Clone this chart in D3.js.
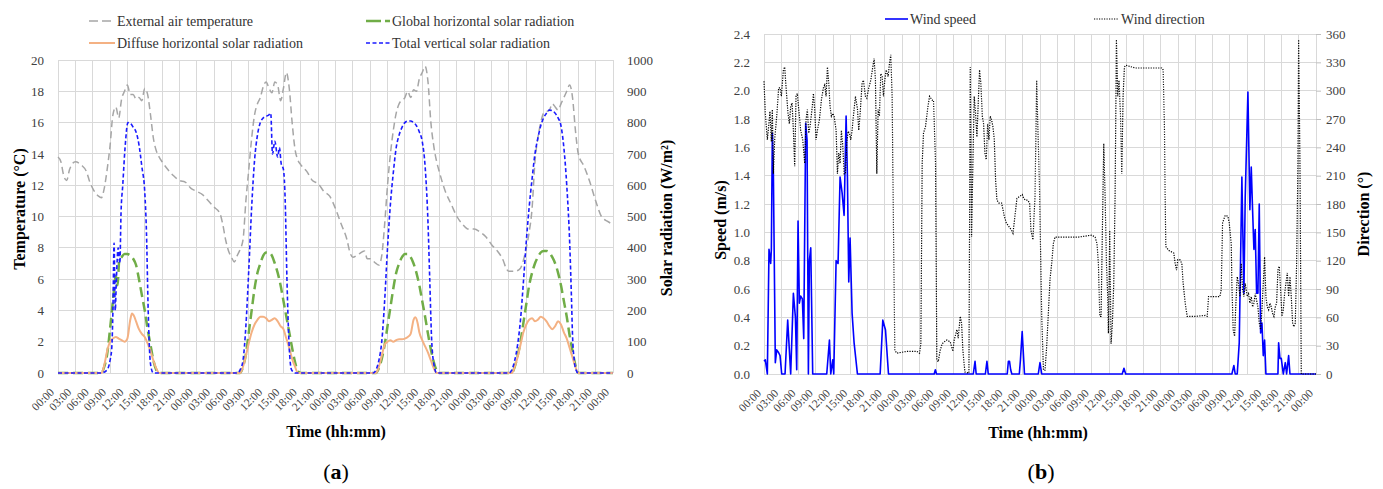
<!DOCTYPE html>
<html><head><meta charset="utf-8">
<script src="https://cdn.jsdelivr.net/npm/d3@7"></script>
<style>
body{margin:0;background:#fff;}
svg{font-family:"Liberation Serif","Times New Roman",serif;}
</style></head><body>
<svg id="c" width="1383" height="489"></svg>
<script>
// ---------- DATA ----------
const timeLabels = ["00:00","03:00","06:00","09:00","12:00","15:00","18:00","21:00",
  "00:00","03:00","06:00","09:00","12:00","15:00","18:00","21:00",
  "00:00","03:00","06:00","09:00","12:00","15:00","18:00","21:00",
  "00:00","03:00","06:00","09:00","12:00","15:00","18:00","21:00","00:00"];
const tempTicks = [0,2,4,6,8,10,12,14,16,18,20];
const radTicks = [0,100,200,300,400,500,600,700,800,900,1000];
const speedTicks = [0,0.2,0.4,0.6,0.8,1.0,1.2,1.4,1.6,1.8,2.0,2.2,2.4];
const dirTicks = [0,30,60,90,120,150,180,210,240,270,300,330,360];

// [hour, °C]
const temperature = [[0,13.8],[0.5,13.5],[1,12.6],[1.5,12.3],[2,13.0],[3,13.5],[4,13.3],[5,12.8],[5.5,12.2],[6,11.8],[6.5,11.5],[7,11.3],[7.5,11.2],[8,11.8],[8.5,13.0],[9,14.5],[9.5,16.5],[10,17.0],[10.5,16.3],[11,17.5],[11.5,18.0],[12,18.4],[12.5,17.8],[13,17.8],[13.5,17.5],[14,17.6],[14.5,17.4],[15,18.2],[15.5,17.8],[16,16.5],[16.5,15.0],[17,14.2],[17.5,13.8],[18,13.5],[19,13.0],[20,12.6],[21,12.3],[22,12.2],[23,11.8],[24,11.6],[25,11.4],[26,11.0],[27,10.6],[28,10.2],[28.5,9.5],[29,8.5],[29.5,7.8],[30,7.4],[30.5,7.1],[31,7.5],[31.5,7.9],[32,8.5],[32.5,11.0],[33,13.0],[33.5,15.0],[34,16.5],[34.5,17.2],[35,17.6],[35.5,18.3],[36,18.6],[36.5,18.2],[37,17.9],[37.5,18.6],[38,18.4],[38.5,17.4],[39,18.2],[39.5,19.2],[40,18.2],[40.5,16.0],[41,14.3],[41.5,13.6],[42,13.3],[43,12.9],[44,12.3],[45,12.1],[46,11.6],[47,11.3],[48,10.5],[49,9.5],[50,8.5],[50.5,7.7],[51,7.4],[52,7.6],[53,7.8],[53.5,7.3],[54,7.3],[55,7.0],[55.5,6.9],[56,7.5],[56.5,9.5],[57,12.0],[57.5,14.0],[58,15.5],[58.5,16.6],[59,17.2],[60,17.6],[60.5,18.0],[61,17.6],[61.5,18.1],[62,18.0],[62.5,18.8],[63,19.2],[63.5,19.6],[64,18.6],[64.5,16.0],[65,14.5],[65.5,13.5],[66,12.8],[67,11.6],[68,10.8],[69,10.0],[70,9.5],[71,9.2],[72,9.2],[73,9.0],[74,8.7],[75,8.2],[76,7.8],[77,7.2],[77.5,6.7],[78,6.5],[79,6.5],[80,6.7],[80.5,7.2],[81,8.0],[81.5,9.0],[82,10.5],[82.5,13.5],[83,15.0],[83.5,16.0],[84,16.6],[85,16.8],[85.5,17.2],[86,17.0],[86.5,16.8],[87,17.2],[87.5,17.6],[88,18.0],[88.5,18.4],[89,17.6],[89.5,15.5],[90,14.0],[91,13.2],[92,12.2],[93,11.0],[94,10.0],[95,9.7],[96,9.5]];

// [hour, W/m²]
const globalRad = [[0,0],[7.5,0],[8,20],[8.5,60],[9,140],[9.5,230],[10,310],[10.3,280],[10.6,360],[11,370],[11.5,380],[12,380],[12.5,375],[13,365],[13.5,345],[14,300],[14.5,250],[15,200],[15.5,140],[16,90],[16.5,40],[17,10],[17.5,0],
  [31.5,0],[32,20],[32.5,60],[33,130],[33.5,200],[34,270],[34.5,320],[35,350],[35.5,375],[36,385],[36.5,385],[37,375],[37.5,350],[38,320],[38.5,280],[39,230],[39.5,180],[40,130],[40.5,80],[41,35],[41.5,5],[42,0],
  [55,0],[55.5,15],[56,45],[56.5,90],[57,150],[57.5,210],[58,270],[58.5,320],[59,350],[59.5,370],[60,380],[60.5,380],[61,370],[61.5,350],[62,320],[62.5,280],[63,230],[63.5,180],[64,125],[64.5,75],[65,35],[65.5,8],[66,0],
  [78.5,0],[79,20],[79.5,55],[80,100],[80.5,160],[81,220],[81.5,280],[82,320],[82.5,350],[83,370],[83.5,385],[84,390],[84.5,390],[85,385],[85.5,370],[86,350],[86.5,320],[87,280],[87.5,230],[88,180],[88.5,120],[89,70],[89.5,25],[90,0],[96,0]];

const diffuseRad = [[0,0],[7.5,0],[8,25],[8.5,70],[9,100],[9.5,110],[10,115],[10.5,110],[11,105],[11.5,100],[12,110],[12.5,170],[12.8,190],[13.2,180],[13.5,165],[14,140],[14.5,125],[15,115],[15.5,95],[16,70],[16.5,40],[17,15],[17.5,0],
  [31.5,0],[32,20],[32.5,55],[33,95],[33.5,130],[34,155],[34.5,170],[35,180],[35.5,180],[36,175],[36.5,165],[37,170],[37.5,175],[38,165],[38.5,150],[39,140],[39.5,110],[40,80],[40.5,45],[41,20],[41.5,0],
  [55,0],[55.5,20],[56,55],[56.5,90],[57,100],[57.5,105],[58,100],[58.5,105],[59,108],[59.5,108],[60,110],[60.5,115],[61,125],[61.5,170],[61.8,178],[62.2,160],[62.5,130],[63,105],[63.5,85],[64,65],[64.5,40],[65,15],[65.5,0],
  [78.5,0],[79,20],[79.5,50],[80,90],[80.5,130],[81,155],[81.5,170],[82,175],[82.5,165],[83,170],[83.5,180],[84,175],[84.5,165],[85,150],[85.5,140],[86,150],[86.5,165],[87,155],[87.5,130],[88,110],[88.5,80],[89,50],[89.5,20],[90,0],[96,0]];

const verticalRad = [[0,0],[7.5,0],[8.5,10],[9,40],[9.3,80],[9.5,200],[9.7,415],[9.9,200],[10.1,300],[10.4,400],[10.7,350],[10.9,510],[11.2,600],[11.6,720],[12.1,800],[12.5,798],[13,785],[13.5,770],[14,730],[14.5,660],[15,580],[15.3,450],[15.6,200],[15.9,50],[16.2,10],[16.5,0],
  [31,0],[31.5,10],[32,40],[32.5,150],[33,330],[33.5,530],[34,680],[34.5,760],[35,800],[35.5,815],[36,820],[36.5,825],[36.8,830],[37.1,700],[37.5,740],[38,690],[38.3,720],[38.6,670],[39,650],[39.3,550],[39.6,300],[40,80],[40.4,10],[41,0],
  [54.5,0],[55,10],[55.5,40],[56,100],[56.5,230],[57,400],[57.5,540],[58,640],[58.5,720],[59,760],[59.5,785],[60,800],[60.5,805],[61,805],[61.5,800],[62,790],[62.5,770],[63,740],[63.5,660],[64,480],[64.3,300],[64.6,120],[65,30],[65.5,0],
  [78,0],[78.5,10],[79,40],[79.5,90],[80,170],[80.5,290],[81,420],[81.5,530],[82,620],[82.5,700],[83,750],[83.5,790],[84,815],[84.5,830],[85,840],[85.5,838],[86,830],[86.5,815],[87,790],[87.5,720],[88,600],[88.5,420],[88.8,250],[89,120],[89.3,40],[89.6,10],[90,0],[96,0]];

// [hour, m/s]
const windSpeed = [[0,0.09],[0.23,0.10],[0.58,0],[0.87,0.88],[1.16,0.78],[1.28,0.88],[1.45,1.70],[1.63,1.42],[1.97,0.08],[2.21,0.17],[2.55,0.15],[2.79,0.13],[3.08,0],[3.66,0],[4.12,0.38],[4.64,0],[5.11,0.57],[5.46,0.40],[5.69,0.03],[5.92,1.08],[6.15,0.50],[6.38,0.55],[6.67,0.53],[6.91,0.25],[7.25,1.77],[7.49,1.65],[7.72,0],[7.89,0.80],[8.13,0.89],[8.47,0],
  [10.91,0],[11.38,0.24],[11.61,0],[11.96,0.10],[12.13,0],[12.54,0.80],[12.88,0.78],[13.23,1.39],[13.58,1.28],[13.93,1.12],[14.28,1.82],[14.51,1.39],[14.74,0.65],[14.97,0.96],[15.32,0.43],[15.67,0.22],[16.25,0],
  [20.2,0],[20.66,0.38],[21.13,0.31],[21.65,0],[29.6,0],[29.8,0.03],[30.0,0],[36.4,0],[36.7,0.09],[36.9,0],[38.5,0],[38.77,0.09],[39.0,0],
  [42.3,0],[42.5,0.09],[42.7,0.09],[42.9,0.03],[43.1,0],[44.4,0],[44.6,0.10],[44.9,0.30],[45.3,0],[47.7,0],[48.0,0.08],[48.3,0],[62.3,0],[62.6,0.04],[62.9,0],
  [81.37,0],[81.72,0.06],[81.95,0],[82.3,0],[82.65,0.22],[83.11,1.39],[83.46,0.57],[83.69,1.25],[84.16,1.99],[84.5,1.16],[84.74,1.46],[84.97,1.16],[85.2,0.88],[85.43,1.02],[85.67,0.57],[85.9,0.57],[86.13,1.20],[86.37,0.29],[86.6,0.36],[86.83,0.13],[87.06,0.24],[87.29,0],
  [89.38,0],[89.5,0.22],[89.73,0.11],[89.96,0.11],[90.31,0],[90.66,0.08],[90.89,0],[91.24,0.13],[91.47,0],[96,0]];

// [hour, degrees]
const windDirection = [[0,310],[0.23,276],[0.58,248],[0.81,262],[1.04,278],[1.28,246],[1.45,280],[1.63,212],[1.86,248],[2.21,273],[2.55,303],[2.79,303],[3.02,294],[3.37,322],[3.6,325],[3.83,304],[4.18,276],[4.41,265],[4.64,283],[4.88,287],[5.11,258],[5.34,220],[5.57,294],[5.8,297],[6.15,273],[6.38,258],[6.73,248],[7.08,223],[7.31,269],[7.54,280],[7.78,255],[8.01,262],[8.36,281],[8.59,297],[8.82,280],[9.05,248],[9.29,258],[9.63,269],[9.98,290],[10.33,303],[10.56,306],[10.8,294],[11.03,325],[11.26,308],[11.49,283],[11.72,273],[11.96,276],[12.19,273],[12.54,258],[12.77,212],[13.0,234],[13.23,223],[13.46,258],[13.7,242],[13.93,212],[14.16,212],[14.39,244],[14.63,257],[14.86,255],[15.09,248],[15.32,258],[15.55,273],[15.9,294],[16.25,281],[16.48,258],[16.72,276],[17.06,308],[17.3,311],[17.64,294],[17.88,292],[18.22,303],[18.57,311],[18.92,325],[19.15,334],[19.38,311],[19.62,212],[19.85,280],[20.08,273],[20.31,318],[20.55,315],[20.78,294],[21.01,311],[21.24,322],[21.59,315],[21.82,329],[22.05,338],[22.29,294],[22.52,152],[22.75,25],[23.1,22],[24.84,24],[26.58,24],[27.05,22],[27.28,32],[27.51,223],[27.74,255],[28.09,262],[28.44,280],[28.79,294],[29.25,290],[29.48,290],[29.83,223],[30.06,15],[30.3,13],[30.64,25],[30.99,32],[31.34,34],[31.8,36],[32.39,34],[32.85,24],[33.08,36],[33.55,47],[33.78,38],[34.13,61],[34.36,54],[34.59,25],[34.94,2],[35.64,1],[35.87,325],[36.1,145],[36.33,223],[36.56,294],[36.8,276],[37.03,251],[37.26,287],[37.49,322],[37.72,308],[37.96,273],[38.19,265],[38.42,234],[38.65,227],[38.89,265],[39.12,248],[39.35,273],[39.58,269],[39.81,262],[40.05,248],[40.28,205],[40.51,184],[40.86,181],[41.32,181],[41.56,174],[41.79,167],[42.14,160],[42.6,156],[43.07,152],[43.3,149],[43.64,167],[43.99,186],[44.46,188],[44.92,190],[45.15,186],[45.5,184],[45.85,184],[46.2,181],[46.43,152],[46.78,142],[47.13,188],[47.42,311],[47.9,200],[48.3,60],[48.6,4],[48.87,4],[49.16,29],[49.45,64],[49.74,100],[50.03,117],[50.32,138],[50.61,145],[51.48,145],[52.35,145],[53.51,145],[54.67,145],[55.84,146],[57.0,147],[57.58,145],[57.92,138],[58.16,117],[58.39,61],[58.62,61],[58.85,152],[59.09,244],[59.32,188],[59.55,117],[59.78,82],[59.9,43],[60.13,152],[60.36,32],[60.59,54],[60.83,96],[61.06,188],[61.29,354],[61.52,294],[61.75,311],[61.99,276],[62.22,212],[62.45,294],[62.68,325],[62.92,327],[64.54,324],[66.86,324],[69.18,324],[69.42,322],[69.65,258],[69.76,188],[69.88,135],[70.34,131],[71.27,128],[71.51,117],[71.74,110],[71.97,121],[72.32,121],[72.67,117],[72.9,96],[73.25,75],[73.6,61],[74.99,61],[76.73,62],[77.08,61],[77.31,82],[79.28,82],[79.51,89],[79.75,160],[80.21,168],[80.68,167],[80.91,160],[81.26,138],[81.37,96],[81.6,47],[81.84,40],[82.07,75],[82.3,103],[82.53,96],[82.77,82],[83.0,117],[83.23,89],[83.46,82],[83.69,96],[84.04,82],[84.27,85],[84.5,75],[84.74,82],[84.97,71],[85.2,75],[85.43,85],[85.67,78],[85.9,71],[86.13,54],[86.37,47],[86.6,68],[86.83,96],[87.06,124],[87.29,82],[87.52,71],[87.76,68],[87.99,75],[88.22,71],[88.45,64],[88.68,61],[88.92,71],[89.15,75],[89.38,110],[89.61,114],[89.84,89],[90.08,61],[90.31,68],[90.54,85],[90.77,96],[91.01,107],[91.24,82],[91.47,103],[91.7,82],[91.93,54],[92.16,50],[92.4,54],[92.63,117],[92.86,223],[92.98,354],[93.21,223],[93.44,0],[96,0]];

// ---------- DRAW ----------
const svg = d3.select("#c");
const grid = "#d9d9d9", tickCol = "#404040";
const hours = d3.range(0, 97, 3);

function panel(o) {
  const g = svg.append("g");
  const x = d3.scaleLinear([0, 96], [o.x0, o.x1]);
  const yL = d3.scaleLinear(o.yLdom, [o.yB, o.yT]);
  const yR = d3.scaleLinear(o.yRdom, [o.yB, o.yT]);
  // grid
  g.append("g").selectAll("line").data(o.lTicks).join("line")
    .attr("x1", o.x0).attr("x2", o.x1).attr("y1", d => yL(d)).attr("y2", d => yL(d))
    .attr("stroke", grid).attr("stroke-width", 1).attr("shape-rendering", "crispEdges");
  g.append("g").selectAll("line").data(hours).join("line")
    .attr("x1", d => x(d)).attr("x2", d => x(d)).attr("y1", o.yT).attr("y2", o.yB)
    .attr("stroke", grid).attr("stroke-width", 1).attr("shape-rendering", "crispEdges");
  // left axis
  const aL = g.append("g").attr("transform", `translate(${o.x0},0)`)
    .call(d3.axisLeft(yL).tickValues(o.lTicks).tickSize(0).tickPadding(14).tickFormat(o.lFmt));
  aL.select(".domain").remove();
  aL.selectAll("text").attr("font-size", 13).attr("fill", tickCol).attr("font-family", "Liberation Serif");
  // right axis
  const aR = g.append("g").attr("transform", `translate(${o.x1},0)`)
    .call(d3.axisRight(yR).tickValues(o.rTicks).tickSize(o.rTickSize).tickPadding(o.rPad).tickFormat(d3.format("d")));
  aR.select(".domain").remove();
  aR.selectAll("line").attr("stroke", "#bfbfbf");
  aR.selectAll("text").attr("font-size", 13).attr("fill", tickCol).attr("font-family", "Liberation Serif");
  // x labels
  g.append("g").selectAll("text").data(hours).join("text")
    .attr("transform", (d) => `translate(${x(d) + o.lblDx},${o.yB + 17}) rotate(-45)`)
    .attr("text-anchor", "end").attr("dy", "0.35em")
    .attr("font-size", 11.5).attr("fill", tickCol)
    .text((d, i) => timeLabels[i]);
  return {g, x, yL, yR};
}

// ---- Panel (a) ----
const A = panel({x0: 58, x1: 613, yT: 60, yB: 373, yLdom: [0, 20], yRdom: [0, 1000],
  lTicks: tempTicks, rTicks: radTicks, lFmt: d3.format("d"), rTickSize: 0, rPad: 14, lblDx: -6});
const lineA = (s) => d3.line().x(d => A.x(d[0])).y(d => s(d[1])).curve(d3.curveMonotoneX);
A.g.append("path").datum(temperature).attr("d", lineA(A.yL)).attr("fill", "none")
  .attr("stroke", "#a6a6a6").attr("stroke-width", 1.5).attr("stroke-dasharray", "7,4");
A.g.append("path").datum(globalRad).attr("d", lineA(A.yR)).attr("fill", "none")
  .attr("stroke", "#70ad47").attr("stroke-width", 2.5).attr("stroke-dasharray", "10,5");
A.g.append("path").datum(diffuseRad).attr("d", lineA(A.yR)).attr("fill", "none")
  .attr("stroke", "#f4b183").attr("stroke-width", 2);
A.g.append("path").datum(verticalRad).attr("d", lineA(A.yR)).attr("fill", "none")
  .attr("stroke", "#1a1aff").attr("stroke-width", 1.6).attr("stroke-dasharray", "4,2.5");

// ---- Panel (b) ----
const B = panel({x0: 764, x1: 1316, yT: 34, yB: 374, yLdom: [0, 2.4], yRdom: [0, 360],
  lTicks: speedTicks, rTicks: dirTicks, lFmt: d3.format(".1f"), rTickSize: 5, rPad: 5, lblDx: -5});
const lineB = (s) => d3.line().x(d => B.x(d[0])).y(d => s(d[1]));
B.g.append("path").datum(windSpeed).attr("d", lineB(B.yL)).attr("fill", "none")
  .attr("stroke", "#0000ff").attr("stroke-width", 1.6).attr("stroke-linejoin", "round");
B.g.append("path").datum(windDirection).attr("d", lineB(B.yR)).attr("fill", "none")
  .attr("stroke", "#000").attr("stroke-width", 1.2).attr("stroke-dasharray", "1.2,1.3");

// ---- Legends ----
function legItem(x1, x2, y, style, label) {
  const l = svg.append("line").attr("x1", x1).attr("x2", x2).attr("y1", y).attr("y2", y)
    .attr("stroke", style.c).attr("stroke-width", style.w);
  if (style.d) l.attr("stroke-dasharray", style.d);
  svg.append("text").attr("x", x2 + 2).attr("y", y).attr("dy", "0.35em")
    .attr("font-size", 14).attr("fill", "#333").text(label);
}
legItem(89, 115, 21, {c: "#a6a6a6", w: 1.5, d: "9,4"}, "External air temperature");
legItem(366, 390, 21, {c: "#70ad47", w: 2.5, d: "15,4"}, "Global horizontal solar radiation");
legItem(89, 115, 43, {c: "#f4b183", w: 2}, "Diffuse horizontal solar radiation");
legItem(366, 390, 43, {c: "#1a1aff", w: 1.6, d: "4,2.5"}, "Total vertical solar radiation");
legItem(885, 908, 19, {c: "#0000ff", w: 1.6}, "Wind speed");
legItem(1094, 1119, 19, {c: "#000", w: 1.2, d: "1.2,1.3"}, "Wind direction");

// ---- Axis titles ----
function title(x, y, rot, txt) {
  svg.append("text").attr("transform", `translate(${x},${y}) rotate(${rot})`)
    .attr("text-anchor", "middle").attr("dy", "0.35em")
    .attr("font-size", 16).attr("font-weight", "bold").attr("fill", "#000").text(txt);
}
title(19, 209, -90, "Temperature (°C)");
title(666, 218, -90, "Solar radiation (W/m²)");
title(336, 431, 0, "Time (hh:mm)");
title(720, 220, -90, "Speed (m/s)");
title(1363, 214, -90, "Direction (°)");
title(1038, 432, 0, "Time (hh:mm)");

function plabel(x, letter) {
  const t = svg.append("text").attr("x", x).attr("y", 479).attr("text-anchor", "middle")
    .attr("font-size", 22).attr("fill", "#000");
  t.append("tspan").text("(");
  t.append("tspan").attr("font-weight", "bold").text(letter);
  t.append("tspan").text(")");
}
plabel(336, "a");
plabel(1041, "b");
</script>
</body></html>
